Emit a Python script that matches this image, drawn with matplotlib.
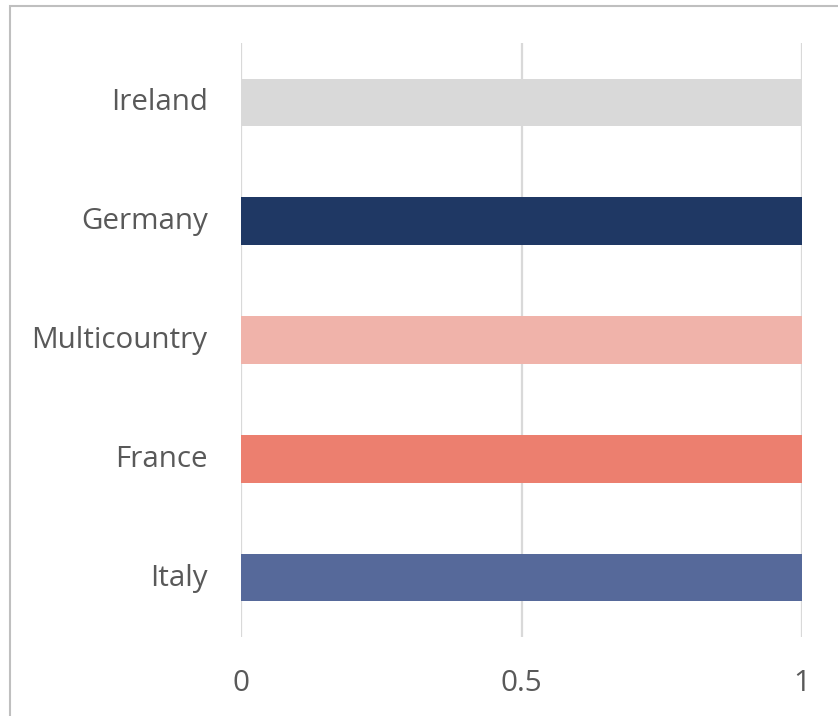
import matplotlib
matplotlib.use("Agg")
import matplotlib.pyplot as plt
from matplotlib.patches import Rectangle
from matplotlib.transforms import ScaledTranslation

# data, bottom to top
countries = ["Italy", "France", "Multicountry", "Germany", "Ireland"]
values = [1, 1, 1, 1, 1]
colors = ["#56699a", "#ec7f6f", "#f0b3aa", "#1f3864", "#d9d9d9"]
xticks = [0, 0.5, 1]
xticklabels = ["0", "0.5", "1"]

plt.rcParams["font.family"] = ["Open Sans", "DejaVu Sans"]

W, H = 838, 716
fig = plt.figure(figsize=(W / 100, H / 100), dpi=100)
ax = fig.add_axes([241 / W, 1 - 637 / H, (802 - 241) / W, (637 - 43) / H])

ax.barh(countries, values, height=0.4, color=colors, zorder=2)

ax.set_xlim(0, 1)
ax.set_ylim(-0.5, len(countries) - 0.5)
ax.set_xticks(xticks)
ax.set_xticklabels(xticklabels)
ax.grid(axis="x", color="#d9d9d9", linewidth=1.6, zorder=0)
ax.set_axisbelow(True)
for s in ax.spines.values():
    s.set_visible(False)
ax.tick_params(axis="both", length=0, labelsize=21.3, labelcolor="#595959")
ax.tick_params(axis="y", pad=24)
ax.tick_params(axis="x", pad=23)

# nudge category labels up a little
up = ScaledTranslation(0, 3 / 100, fig.dpi_scale_trans)
for lab in ax.get_yticklabels():
    lab.set_va("center_baseline")
    lab.set_transform(lab.get_transform() + up)

# chart frame (only left and top show inside the image)
fig.add_artist(Rectangle((10 / W, -0.05), 1.1, 1 - 6 / H + 0.05,
                         transform=fig.transFigure, fill=False,
                         edgecolor="#bfbfbf", linewidth=1.5))

fig.savefig("out.png", dpi=100)
